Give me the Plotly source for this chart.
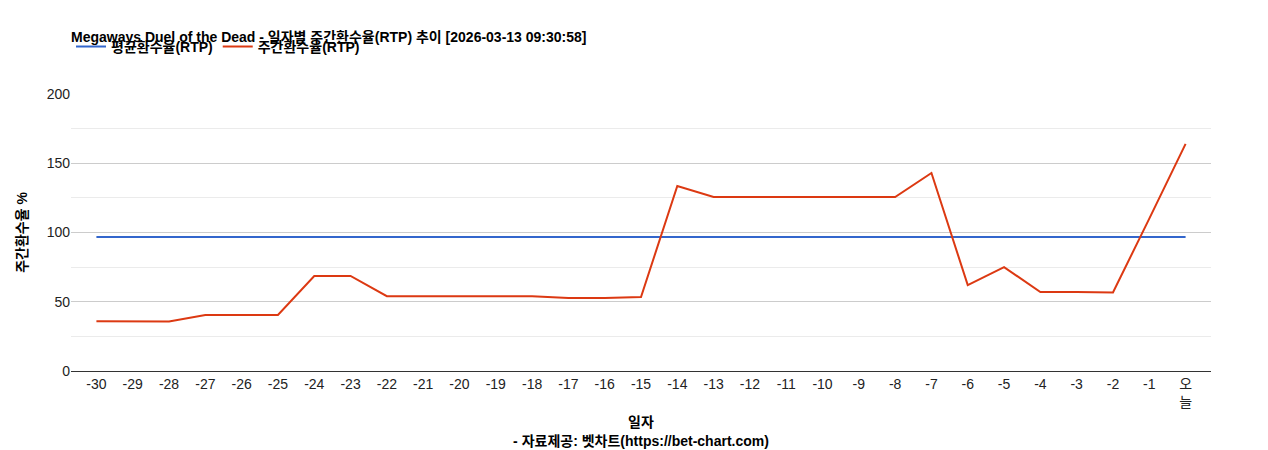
import plotly.graph_objects as go

# 일자 라벨
days = [str(d) for d in range(-30, 0)] + ["오<br>늘"]

# 주간환수율(RTP)
weekly_rtp = [36, 36, 35.7, 40.4, 40.5, 40.5, 68.6, 68.6, 54, 54, 54, 54, 54, 52.7, 52.7, 53.4,
              133.6, 125.6, 125.6, 125.6, 125.6, 125.6, 125.6, 143, 62, 75, 57, 57, 56.7, 110, 164]
# 평균환수율(RTP)
avg_rtp = [96.7] * len(days)

fig = go.Figure()
fig.add_trace(go.Scatter(x=days, y=avg_rtp, mode='lines', name='<b>평균환수율(RTP)</b>',
                         line=dict(color='#3366cc', width=2)))
fig.add_trace(go.Scatter(x=days, y=weekly_rtp, mode='lines', name='<b>주간환수율(RTP)</b>',
                         line=dict(color='#dc3912', width=2)))

fig.update_layout(
    width=1268, height=450,
    paper_bgcolor='white', plot_bgcolor='white',
    font=dict(family='Liberation Sans, Noto Sans CJK KR', size=14, color='#222'),
    title=dict(text='<b>Megaways Duel of the Dead - 일자별 주간환수율(RTP) 추이 [2026-03-13 09:30:58]</b>',
               x=63 / 1268, xanchor='left', y=0.935, yanchor='middle',
               font=dict(size=14, color='black')),
    legend=dict(orientation='h', x=0.0, y=1.17, xanchor='left', yanchor='middle',
                font=dict(size=14, color='black')),
    margin=dict(l=63, r=65, t=86, b=87),
    showlegend=True,
)
fig.update_xaxes(title=dict(text='<b>일자</b><br><b>- 자료제공: 벳차트(https://bet-chart.com)</b>',
                            font=dict(size=14, color='black'), standoff=8),
                 showline=True, linecolor='#333', tickfont=dict(size=14, color='#222'),
                 range=[-0.7, 30.7], showgrid=False)
fig.update_yaxes(title=dict(text='<b>주간환수율 %</b>', font=dict(size=14, color='black')),
                 range=[0, 200], dtick=50, gridcolor='#cccccc', zeroline=False,
                 tickfont=dict(size=14, color='#222'),
                 minor=dict(dtick=25, showgrid=True, gridcolor='#ebebeb'))

fig.write_html("out.html")
